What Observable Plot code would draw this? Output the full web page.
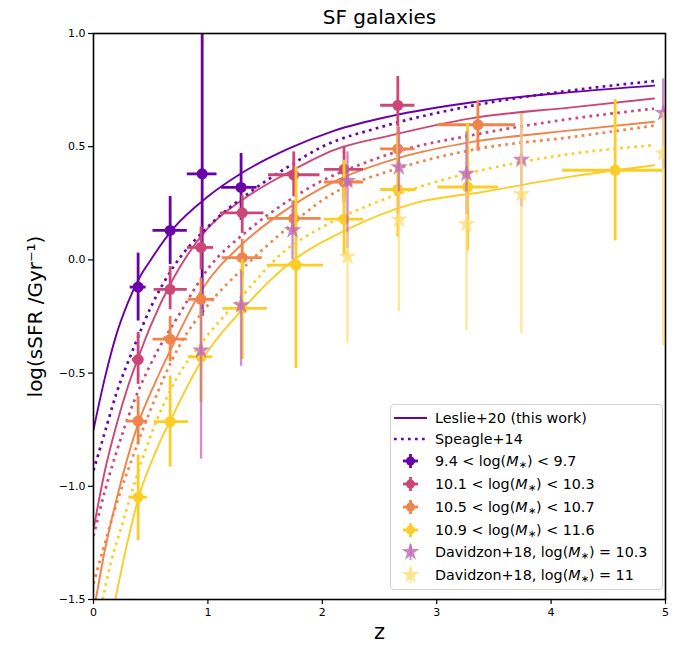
<!DOCTYPE html>
<html>
<head>
<meta charset="utf-8">
<script src="https://cdn.jsdelivr.net/npm/d3@7"></script>
<script src="https://cdn.jsdelivr.net/npm/@observablehq/plot@0.6"></script>
<style>
  html, body { margin: 0; padding: 0; background: #fff; }
  #wrap { position: relative; width: 694px; height: 652px; font-family: "DejaVu Sans", sans-serif; }
  #legend { position: absolute; left: 390px; top: 404px; width: 273px; height: 186px;
    border: 1px solid #d3d3d3; border-radius: 4px; background: rgba(255,255,255,0.85);
    font-family: "DejaVu Sans", sans-serif; font-size: 14.3px; color: #000; box-sizing: border-box; }
  .row { position: absolute; left: 0; height: 20px; width: 270px; }
  .row svg { position: absolute; left: 2px; top: 0; }
  .row span { position: absolute; left: 44px; top: 0px; white-space: nowrap; line-height: 20px; }
  .row sub { font-size: 70%; vertical-align: -2px; line-height: 0; }
</style>
</head>
<body>
<div id="wrap"><div id="legend"></div></div>
<script>
// ---------- colours ----------
const cPurple = "#6a00a8", cPink = "#cc4778", cOrange = "#f1844b", cYellow = "#fccd25";
const cDav1 = "#c06ab5", cDav2 = "#fddf78";

// ---------- Leslie+20 curves (solid) ----------
const lesPurpleZ = [0, 0.1, 0.2, 0.3, 0.4, 0.5, 0.7, 1.0, 1.3, 1.7, 2.1, 2.6, 3.3, 4.2, 4.9];
const lesPurpleY = [-0.75, -0.52, -0.33, -0.19, -0.08, 0.0, 0.14, 0.28, 0.385, 0.49, 0.57, 0.635, 0.695, 0.742, 0.77];
const lesPinkZ = [0, 0.1, 0.2, 0.3, 0.4, 0.5, 0.7, 1.0, 1.3, 1.7, 2.1, 2.6, 3.3, 4.2, 4.9];
const lesPinkY = [-1.19, -0.93, -0.73, -0.56, -0.42, -0.29, -0.08, 0.14, 0.265, 0.385, 0.485, 0.55, 0.625, 0.675, 0.713];
const lesOrangeZ = [0.02, 0.1, 0.2, 0.3, 0.4, 0.55, 0.7, 0.95, 1.3, 1.65, 2.1, 2.7, 3.3, 4.2, 4.9];
const lesOrangeY = [-1.5, -1.28, -1.06, -0.87, -0.71, -0.53, -0.37, -0.13, 0.07, 0.21, 0.345, 0.455, 0.52, 0.573, 0.61];
const lesYellowZ = [0.19, 0.3, 0.4, 0.55, 0.7, 0.95, 1.3, 1.7, 2.2, 2.8, 3.4, 4.2, 4.9];
const lesYellowY = [-1.5, -1.24, -1.04, -0.84, -0.68, -0.44, -0.22, -0.02, 0.13, 0.25, 0.3, 0.37, 0.418];

// ---------- Speagle+14 curves (dotted) ----------
const spePurpleZ = [0, 0.1, 0.2, 0.35, 0.5, 0.7, 1.0, 1.35, 1.7, 2.0, 2.5, 3.3, 4.2, 4.9];
const spePurpleY = [-0.93, -0.76, -0.59, -0.39, -0.21, -0.03, 0.146, 0.293, 0.411, 0.5, 0.585, 0.68, 0.75, 0.79];
const spePinkZ = [0, 0.1, 0.2, 0.35, 0.5, 0.75, 1.0, 1.35, 1.7, 2.0, 2.3, 2.7, 3.3, 4.2, 4.9];
const spePinkY = [-1.22, -1.02, -0.85, -0.63, -0.46, -0.24, -0.04, 0.13, 0.26, 0.35, 0.415, 0.485, 0.55, 0.625, 0.668];
const speOrangeZ = [0, 0.1, 0.2, 0.35, 0.5, 0.75, 1.0, 1.3, 1.6, 2.05, 2.7, 3.3, 4.2, 4.9];
const speOrangeY = [-1.43, -1.25, -1.08, -0.86, -0.66, -0.38, -0.2, -0.04, 0.1, 0.28, 0.41, 0.485, 0.544, 0.593];
const speYellowZ = [0.08, 0.15, 0.25, 0.42, 0.56, 0.73, 0.94, 1.29, 1.65, 2.0, 2.5, 2.95, 3.4, 4.2, 4.9];
const speYellowY = [-1.5, -1.34, -1.17, -0.89, -0.7, -0.52, -0.37, -0.165, 0.03, 0.145, 0.26, 0.338, 0.397, 0.47, 0.507];

// ---------- data points: 9.4 < log M < 9.7 ----------
const purpleZ   = [0.39, 0.67, 0.95, 1.29];
const purpleY   = [-0.12, 0.13, 0.38, 0.32];
const purpleYlo = [-0.27, -0.02, -0.25, 0.175];
const purpleYhi = [0.03, 0.28, 1.1, 0.47];
const purpleZlo = [0.32, 0.52, 0.82, 1.12];
const purpleZhi = [0.46, 0.82, 1.08, 1.43];
// ---------- 10.1 < log M < 10.3 ----------
const pinkZ   = [0.39, 0.67, 0.94, 1.30, 1.75, 2.19, 2.66];
const pinkY   = [-0.44, -0.13, 0.055, 0.208, 0.376, 0.40, 0.683];
const pinkYlo = [-0.55, -0.22, -0.045, 0.117, 0.279, 0.25, 0.588];
const pinkYhi = [-0.32, -0.03, 0.146, 0.286, 0.477, 0.502, 0.81];
const pinkZlo = [0.34, 0.53, 0.82, 1.11, 1.53, 2.02, 2.51];
const pinkZhi = [0.44, 0.82, 1.05, 1.49, 1.98, 2.36, 2.81];
// ---------- 10.5 < log M < 10.7 ----------
const orangeZ   = [0.39, 0.67, 0.94, 1.30, 1.75, 2.19, 2.66, 3.36];
const orangeY   = [-0.712, -0.35, -0.174, 0.01, 0.183, 0.344, 0.49, 0.597];
const orangeYlo = [-0.818, -0.45, -0.25, -0.08, 0.12, 0.27, 0.396, 0.48];
const orangeYhi = [-0.604, -0.25, -0.08, 0.09, 0.26, 0.42, 0.587, 0.70];
const orangeZlo = [0.29, 0.52, 0.83, 1.125, 1.52, 2.02, 2.51, 3.01];
const orangeZhi = [0.475, 0.82, 1.06, 1.475, 1.99, 2.36, 2.81, 3.69];
// ---------- 10.9 < log M < 11.6 ----------
const yellowZ   = [0.39, 0.67, 0.94, 1.30, 1.77, 2.19, 2.66, 3.27, 4.56];
const yellowY   = [-1.048, -0.714, -0.428, -0.214, -0.023, 0.18, 0.311, 0.322, 0.396];
const yellowYlo = [-1.24, -0.915, -0.63, -0.44, -0.48, 0.02, 0.1, 0.04, 0.084];
const yellowYhi = [-0.862, -0.513, -0.22, 0.0, 0.41, 0.44, 0.55, 0.6, 0.708];
const yellowZlo = [0.31, 0.53, 0.83, 1.13, 1.52, 2.02, 2.51, 3.01, 4.10];
const yellowZhi = [0.47, 0.83, 1.04, 1.52, 2.01, 2.36, 2.82, 3.54, 4.98];
// ---------- Davidzon+18 ----------
const dav103Z   = [0.94, 1.29, 1.74, 2.22, 2.67, 3.26, 3.74, 4.98];
const dav103Y   = [-0.40, -0.20, 0.131, 0.349, 0.41, 0.381, 0.443, 0.649];
const dav103Ylo = [-0.88, -0.47, 0.0, 0.05, 0.2, 0.2, 0.234, 0.4];
const dav103Yhi = [-0.2, -0.05, 0.26, 0.477, 0.587, 0.566, 0.646, 0.8];
const dav11Z   = [2.22, 2.67, 3.26, 3.74, 4.98];
const dav11Y   = [0.014, 0.178, 0.158, 0.29, 0.47];
const dav11Ylo = [-0.37, -0.23, -0.31, -0.325, -0.38];
const dav11Yhi = [0.12, 0.3, 0.3, 0.646, 0.65];

// ---------- ticks / labels ----------
const xTicks = [0, 1, 2, 3, 4, 5];
const yTicks = [-1.5, -1.0, -0.5, 0.0, 0.5, 1.0];
const titleText = "SF galaxies";
const xLabel = "z";
const yLabel = "log(sSFR /Gyr\u207B\u00B9)";
const legendLabels = [
  "Leslie+20 (this work)",
  "Speagle+14",
  "9.4 &lt; log(<i>M</i><sub>∗</sub>) &lt; 9.7",
  "10.1 &lt; log(<i>M</i><sub>∗</sub>) &lt; 10.3",
  "10.5 &lt; log(<i>M</i><sub>∗</sub>) &lt; 10.7",
  "10.9 &lt; log(<i>M</i><sub>∗</sub>) &lt; 11.6",
  "Davidzon+18, log(<i>M</i><sub>∗</sub>) = 10.3",
  "Davidzon+18, log(<i>M</i><sub>∗</sub>) = 11"
];

// ---------- build tables ----------
const curve = (zs, ys) => zs.map((z, i) => ({z, y: ys[i]}));
const pts = (z, y, ylo, yhi, zlo, zhi) => z.map((v, i) => ({z: v, y: y[i], ylo: ylo[i], yhi: yhi[i], zlo: zlo ? zlo[i] : v, zhi: zhi ? zhi[i] : v}));

const solidCurves = [
  [curve(lesPurpleZ, lesPurpleY), cPurple],
  [curve(lesPinkZ, lesPinkY), cPink],
  [curve(lesOrangeZ, lesOrangeY), cOrange],
  [curve(lesYellowZ, lesYellowY), cYellow]
];
const dottedCurves = [
  [curve(spePurpleZ, spePurpleY), cPurple],
  [curve(spePinkZ, spePinkY), cPink],
  [curve(speOrangeZ, speOrangeY), cOrange],
  [curve(speYellowZ, speYellowY), cYellow]
];
const groups = [
  [pts(purpleZ, purpleY, purpleYlo, purpleYhi, purpleZlo, purpleZhi), cPurple],
  [pts(pinkZ, pinkY, pinkYlo, pinkYhi, pinkZlo, pinkZhi), cPink],
  [pts(orangeZ, orangeY, orangeYlo, orangeYhi, orangeZlo, orangeZhi), cOrange],
  [pts(yellowZ, yellowY, yellowYlo, yellowYhi, yellowZlo, yellowZhi), cYellow]
];
const dav = [
  [pts(dav103Z, dav103Y, dav103Ylo, dav103Yhi), cDav1],
  [pts(dav11Z, dav11Y, dav11Ylo, dav11Yhi), cDav2]
];

const marks = [];
for (const [d, c] of solidCurves)
  marks.push(Plot.line(d, {x: "z", y: "y", stroke: c, strokeWidth: 1.9, curve: "monotone-x", clip: true}));
for (const [d, c] of dottedCurves)
  marks.push(Plot.line(d, {x: "z", y: "y", stroke: c, strokeWidth: 2.7, strokeDasharray: "2.7,4.3", strokeLinecap: "butt", curve: "monotone-x", clip: true}));
for (const [d, c] of groups) {
  marks.push(Plot.ruleX(d, {x: "z", y1: "ylo", y2: "yhi", stroke: c, strokeWidth: 2.8, clip: true}));
  marks.push(Plot.ruleY(d, {y: "y", x1: "zlo", x2: "zhi", stroke: c, strokeWidth: 2.8, clip: true}));
  marks.push(Plot.dot(d, {x: "z", y: "y", r: 5.5, fill: c, stroke: "none", clip: true}));
}
for (const [d, c] of dav) {
  marks.push(Plot.ruleX(d, {x: "z", y1: "ylo", y2: "yhi", stroke: c, strokeWidth: 2.4, strokeOpacity: 0.75, clip: true}));
  marks.push(Plot.dot(d, {x: "z", y: "y", r: 5.6, symbol: "star", fill: c, fillOpacity: 0.8, stroke: "none", clip: true}));
}
marks.push(Plot.frame({stroke: "black", strokeWidth: 1.6}));
marks.push(Plot.axisX({ticks: xTicks, tickFormat: d => String(d), tickSize: 5, tickPadding: 4, fontSize: 11, label: null, strokeWidth: 1.2}));
marks.push(Plot.axisY({ticks: yTicks, tickFormat: d3.format(".1f"), tickSize: 5, tickPadding: 3, fontSize: 11, label: null, strokeWidth: 1.2}));
marks.push(Plot.text([titleText], {frameAnchor: "top", lineAnchor: "middle", dy: -16, fontSize: 20, fill: "black"}));
marks.push(Plot.text([xLabel], {frameAnchor: "bottom", lineAnchor: "middle", dy: 33, fontSize: 21, fill: "black"}));
marks.push(Plot.text([yLabel], {frameAnchor: "left", textAnchor: "middle", lineAnchor: "middle", dx: -58, rotate: -90, fontSize: 20, fill: "black"}));

const chart = Plot.plot({
  width: 694, height: 652,
  marginLeft: 93, marginRight: 29, marginTop: 33, marginBottom: 53,
  style: {fontFamily: "DejaVu Sans, sans-serif", background: "white", color: "black", overflow: "visible"},
  x: {domain: [0, 5]},
  y: {domain: [-1.5, 1.0]},
  marks
});
const wrap = document.getElementById("wrap");
wrap.insertBefore(chart, wrap.firstChild);

// ---------- legend ----------
const legend = document.getElementById("legend");
const legendKinds = [
  {kind: "line", color: cPurple},
  {kind: "dots", color: cPurple},
  {kind: "err", color: cPurple},
  {kind: "err", color: cPink},
  {kind: "err", color: cOrange},
  {kind: "err", color: cYellow},
  {kind: "star", color: cDav1},
  {kind: "star", color: cDav2}
];
const rowTops = [3, 24, 46, 69, 92, 115, 137, 160];
legendKinds.forEach((k, i) => {
  const row = document.createElement("div");
  row.className = "row";
  row.style.top = rowTops[i] + "px";
  let sym = "";
  if (k.kind === "line") sym = `<line x1="1" x2="34" y1="10" y2="10" stroke="${k.color}" stroke-width="2"/>`;
  if (k.kind === "dots") sym = `<line x1="1" x2="34" y1="10" y2="10" stroke="${k.color}" stroke-width="2.7" stroke-dasharray="2.7,4.3"/>`;
  if (k.kind === "err") sym = `<line x1="10" x2="25" y1="10" y2="10" stroke="${k.color}" stroke-width="2.8"/><line x1="17.5" x2="17.5" y1="3" y2="17" stroke="${k.color}" stroke-width="2.8"/><circle cx="17.5" cy="10" r="4.5" fill="${k.color}"/>`;
  if (k.kind === "star") {
    const s = d3.symbol(d3.symbolStar, 100)();
    sym = `<line x1="17.5" x2="17.5" y1="2" y2="18" stroke="${k.color}" stroke-width="2" stroke-opacity="0.75"/><path transform="translate(17.5,10)" d="${s}" fill="${k.color}" fill-opacity="0.8"/>`;
  }
  row.innerHTML = `<svg width="40" height="20">${sym}</svg><span>${legendLabels[i]}</span>`;
  legend.appendChild(row);
});
</script>
</body>
</html>
